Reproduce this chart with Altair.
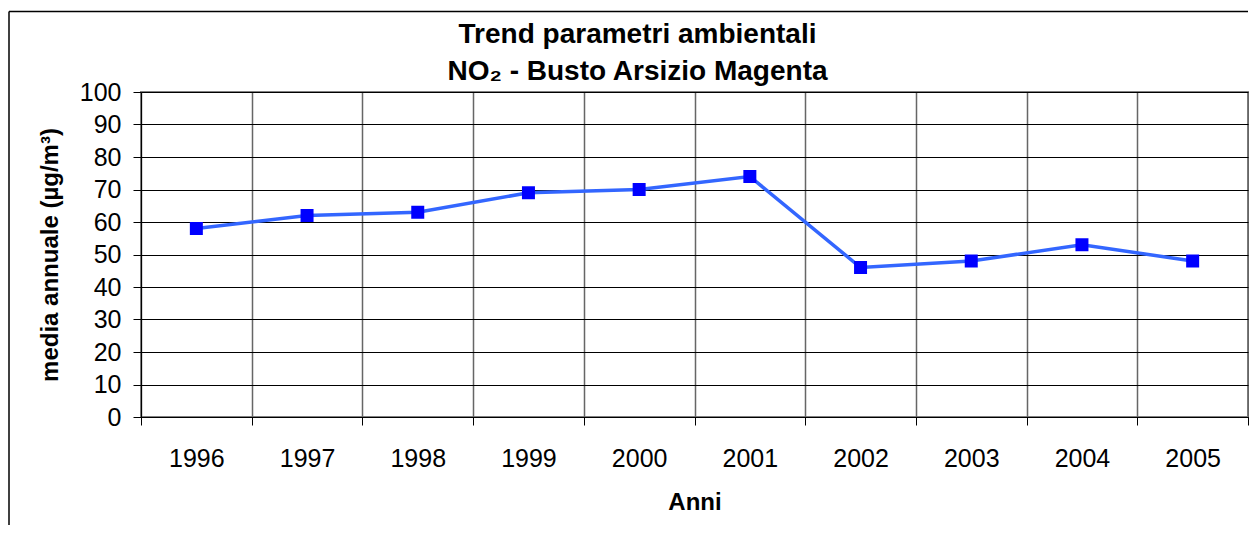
import altair as alt
import pandas as pd

years = ["1996", "1997", "1998", "1999", "2000", "2001", "2002", "2003", "2004", "2005"]
values = [58, 62, 63, 69, 70, 74, 46, 48, 53, 48]
y_ticks = [0, 10, 20, 30, 40, 50, 60, 70, 80, 90, 100]
title_lines = ["Trend parametri ambientali", "NO₂ - Busto Arsizio Magenta"]
x_title = "Anni"
y_title = "media annuale (µg/m³)"

df = pd.DataFrame({"anno": years, "media": values})

FONT = "Liberation Sans"
W, H = 1107, 325

x_enc = alt.X(
    "anno:O",
    title=x_title,
    scale=alt.Scale(type="band", paddingInner=0, paddingOuter=0),
    axis=alt.Axis(
        tickBand="extent", labelAngle=0, labelFontSize=25, labelFont=FONT,
        labelColor="black", labelPadding=21, tickSize=8, tickColor="black",
        tickWidth=1, domainColor="black", domainWidth=1, grid=True,
        gridColor="#666666", gridWidth=1.5, gridOpacity=1,
        titleFontSize=24, titleFont=FONT, titleFontWeight="bold",
        titleColor="black", titlePadding=19,
    ),
)
y_enc = alt.Y(
    "media:Q",
    title=y_title,
    scale=alt.Scale(domain=[0, 100], nice=False),
    axis=alt.Axis(
        values=y_ticks, labelFontSize=25, labelFont=FONT, labelColor="black",
        labelPadding=12, tickSize=8, tickColor="black", tickWidth=1,
        domainColor="black", domainWidth=1, grid=True, gridColor="black",
        gridWidth=1, gridOpacity=1, titleFontSize=24, titleFont=FONT,
        titleFontWeight="bold", titleColor="black", titlePadding=17,
    ),
)

base = alt.Chart(df).encode(x=x_enc, y=y_enc)
line = base.mark_line(color="#3366FF", strokeWidth=3.5)
pts = base.mark_square(color="#0000FF", size=169, opacity=1, filled=True)

frame_df = pd.DataFrame({"k": [0]})
top_border = alt.Chart(frame_df).mark_rule(color="black", strokeWidth=1.5).encode(
    x=alt.value(-132), x2=alt.value(W), y=alt.value(-80.5)
)
left_border = alt.Chart(frame_df).mark_rule(color="black", strokeWidth=1.5).encode(
    x=alt.value(-132), y=alt.value(-80.5), y2=alt.value(433)
)

chart = alt.layer(line, pts, top_border, left_border).properties(
    width=W,
    height=H,
    padding={"left": 0, "top": 2, "right": 0, "bottom": 0},
    title=alt.TitleParams(
        text=title_lines, fontSize=28, font=FONT, fontWeight="bold",
        color="black", anchor="middle", frame="group", offset=-75, dx=-57,
        lineHeight=36.5,
    ),
).configure_view(stroke="#808080", strokeWidth=2)

chart.save("out.html", embed_options={"renderer": "svg", "actions": False})
